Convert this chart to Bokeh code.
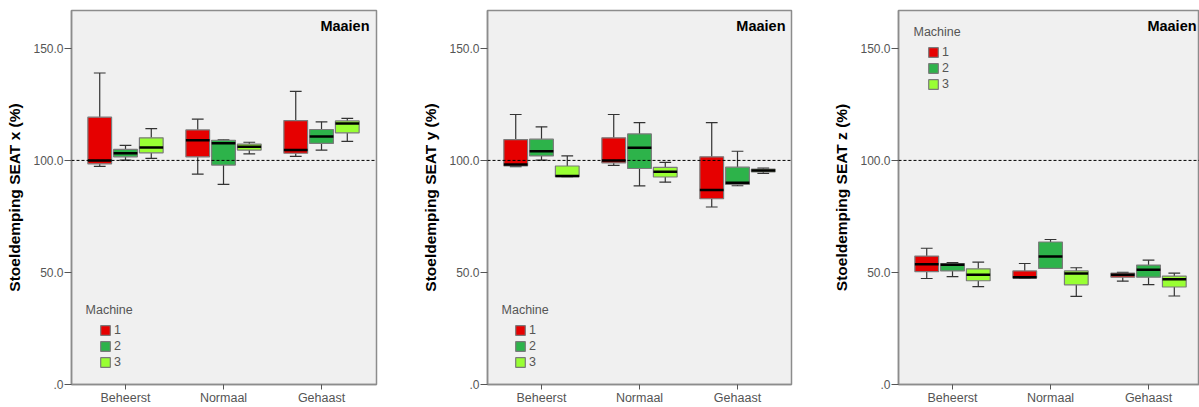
from bokeh.plotting import figure
from bokeh.models import (ColumnDataSource, Range1d, FixedTicker, Span, Label,
                          Legend, LegendItem)
from bokeh.layouts import row
from bokeh.transform import dodge
from bokeh.embed import file_html
from bokeh.resources import INLINE

# ---------------- data ----------------
categories = ["Beheerst", "Normaal", "Gehaast"]
machines = ["1", "2", "3"]
machine_colors = ["#e60000", "#2db34a", "#99ff33"]
axis_titles = ["Stoeldemping SEAT x (%)", "Stoeldemping SEAT y (%)", "Stoeldemping SEAT z (%)"]
panel_label = "Maaien"
legend_title = "Machine"
y_ticks = [0, 50, 100, 150]
y_tick_labels = [".0", "50.0", "100.0", "150.0"]
reference_level = 100

# rows = machine 1, 2, 3 ; columns = Beheerst, Normaal, Gehaast
x_lower  = [[97.3, 93.9, 101.8], [100.1, 89.3, 104.6], [100.9, 102.9, 108.5]]
x_q1     = [[98.5, 101.6, 103.2], [101.6, 97.9, 107.6], [103.4, 104.6, 112.3]]
x_median = [[100.0, 109.0, 104.7], [103.2, 107.7, 110.7], [105.8, 106.1, 116.5]]
x_q3     = [[119.3, 113.6, 117.8], [104.9, 109.0, 113.8], [110.1, 107.3, 117.6]]
x_upper  = [[139.0, 118.4, 130.8], [106.7, 109.2, 117.2], [114.2, 108.1, 118.8]]

y_lower  = [[97.2, 97.8, 79.2], [100.1, 88.6, 88.7], [92.7, 90.3, 94.2]]
y_q1     = [[97.6, 98.9, 82.9], [102.0, 96.4, 89.3], [92.7, 92.6, 94.9]]
y_median = [[98.2, 100.0, 86.8], [104.1, 105.6, 90.0], [93.0, 94.9, 95.5]]
y_q3     = [[109.3, 110.1, 101.6], [109.5, 111.8, 97.0], [97.5, 96.9, 96.1]]
y_upper  = [[120.5, 120.5, 116.9], [115.0, 116.9, 104.1], [102.0, 99.1, 96.6]]

z_lower  = [[47.3, 47.5, 46.1], [48.1, 51.8, 44.6], [43.7, 39.3, 39.5]]
z_q1     = [[50.4, 47.5, 47.9], [50.7, 51.8, 47.9], [46.3, 44.5, 43.5]]
z_median = [[53.7, 47.9, 49.0], [53.4, 57.1, 51.2], [49.0, 49.5, 47.0]]
z_q3     = [[57.3, 50.7, 49.7], [54.0, 63.6, 53.3], [51.6, 50.7, 48.4]]
z_upper  = [[60.8, 54.0, 50.0], [54.4, 64.7, 55.5], [54.6, 52.1, 49.7]]

# ---------------- styling / layout ----------------
FONT = "Liberation Sans"
TICK_COLOR = "#555555"
FRAME_COLOR = "#8c8c8c"
BOX_W = 0.242
DODGE = 0.263
CAP_W = 0.12
cat_pos = [i + 1 for i in range(len(categories))]
offsets = [-DODGE, 0.0, DODGE]


def make_panel(title, lo, q1, med, q3, up, width, left, right, x_end,
               legend_loc, mach_xy):
    p = figure(width=width, height=407, output_backend="svg", toolbar_location=None,
               x_range=Range1d(0.449, x_end), y_range=Range1d(0, 166.9),
               min_border_left=left, min_border_right=right,
               min_border_top=10, min_border_bottom=22)
    p.background_fill_color = "#f0f0f0"
    p.border_fill_color = "white"
    p.outline_line_color = FRAME_COLOR
    p.outline_line_width = 1.5
    p.grid.visible = False

    # axes
    p.xaxis.ticker = FixedTicker(ticks=cat_pos)
    p.xaxis.major_label_overrides = {pos: c for pos, c in zip(cat_pos, categories)}
    p.yaxis.ticker = FixedTicker(ticks=y_ticks)
    p.yaxis.major_label_overrides = {t: l for t, l in zip(y_ticks, y_tick_labels)}
    for ax in (p.xaxis, p.yaxis):
        ax.axis_line_color = FRAME_COLOR
        ax.axis_line_width = 1.5
        ax.major_tick_line_color = TICK_COLOR
        ax.major_tick_in = 0
        ax.minor_tick_line_color = None
        ax.major_label_text_font = FONT
        ax.major_label_text_color = TICK_COLOR
    p.xaxis.major_tick_out = 5
    p.xaxis.major_label_standoff = 1
    p.xaxis.major_label_text_font_size = "12.5px"
    p.yaxis.major_tick_out = 7
    p.yaxis.major_label_standoff = 1
    p.yaxis.major_label_text_font_size = "12px"
    p.yaxis.axis_label = title
    p.yaxis.axis_label_text_font = FONT
    p.yaxis.axis_label_text_font_style = "bold"
    p.yaxis.axis_label_text_font_size = "15.5px"
    p.yaxis.axis_label_text_color = "black"
    p.yaxis.axis_label_standoff = 7

    p.add_layout(Span(location=reference_level, dimension="width",
                      line_color="black", line_width=1, line_dash="3 2"))

    items = []
    for m, (name, color, off) in enumerate(zip(machines, machine_colors, offsets)):
        src = ColumnDataSource(dict(pos=cat_pos, lower=lo[m], q1=q1[m],
                                    median=med[m], q3=q3[m], upper=up[m]))
        wk = dict(source=src, line_color="#333333", line_width=1.2)
        p.segment(x0=dodge("pos", off), y0="q3", x1=dodge("pos", off), y1="upper", **wk)
        p.segment(x0=dodge("pos", off), y0="lower", x1=dodge("pos", off), y1="q1", **wk)
        p.segment(x0=dodge("pos", off - CAP_W / 2), y0="upper",
                  x1=dodge("pos", off + CAP_W / 2), y1="upper", **wk)
        p.segment(x0=dodge("pos", off - CAP_W / 2), y0="lower",
                  x1=dodge("pos", off + CAP_W / 2), y1="lower", **wk)
        r = p.vbar(x=dodge("pos", off), width=BOX_W, bottom="q1", top="q3", source=src,
                   fill_color=color, line_color="#7a7a7a", line_width=1.2)
        p.segment(x0=dodge("pos", off - BOX_W / 2), y0="median",
                  x1=dodge("pos", off + BOX_W / 2), y1="median", source=src,
                  line_color="black", line_width=2.5)
        items.append(LegendItem(label=name, renderers=[r]))

    legend = Legend(items=items, location=legend_loc, glyph_width=12, glyph_height=12,
                    label_height=12, spacing=2, padding=0, margin=0,
                    border_line_color=None, background_fill_alpha=0,
                    label_text_font=FONT, label_text_font_size="12.5px",
                    label_text_color=TICK_COLOR, label_standoff=3)
    p.add_layout(legend)
    p.add_layout(Label(x=mach_xy[0], y=mach_xy[1], text=legend_title,
                       text_font=FONT, text_font_size="12.5px", text_color=TICK_COLOR,
                       text_align="left", text_baseline="middle"))
    p.add_layout(Label(x=3.49, y=159.8, text=panel_label, text_font=FONT,
                       text_font_size="14.5px", text_font_style="bold",
                       text_color="black", text_align="right", text_baseline="middle"))
    return p


p1 = make_panel(axis_titles[0], x_lower, x_q1, x_median, x_q3, x_upper,
                416, 71, 40, 3.561, (28, 15), (0.592, 33.4))
p2 = make_panel(axis_titles[1], y_lower, y_q1, y_median, y_q3, y_upper,
                411, 71, 36, 3.551, (27, 15), (0.592, 33.4))
p3 = make_panel(axis_titles[2], z_lower, z_q1, z_median, z_q3, z_upper,
                372, 71, 0, 3.52, (29, 293), (0.602, 157.1))

layout = row(p1, p2, p3)
open("out.html", "w").write(file_html(layout, INLINE))
